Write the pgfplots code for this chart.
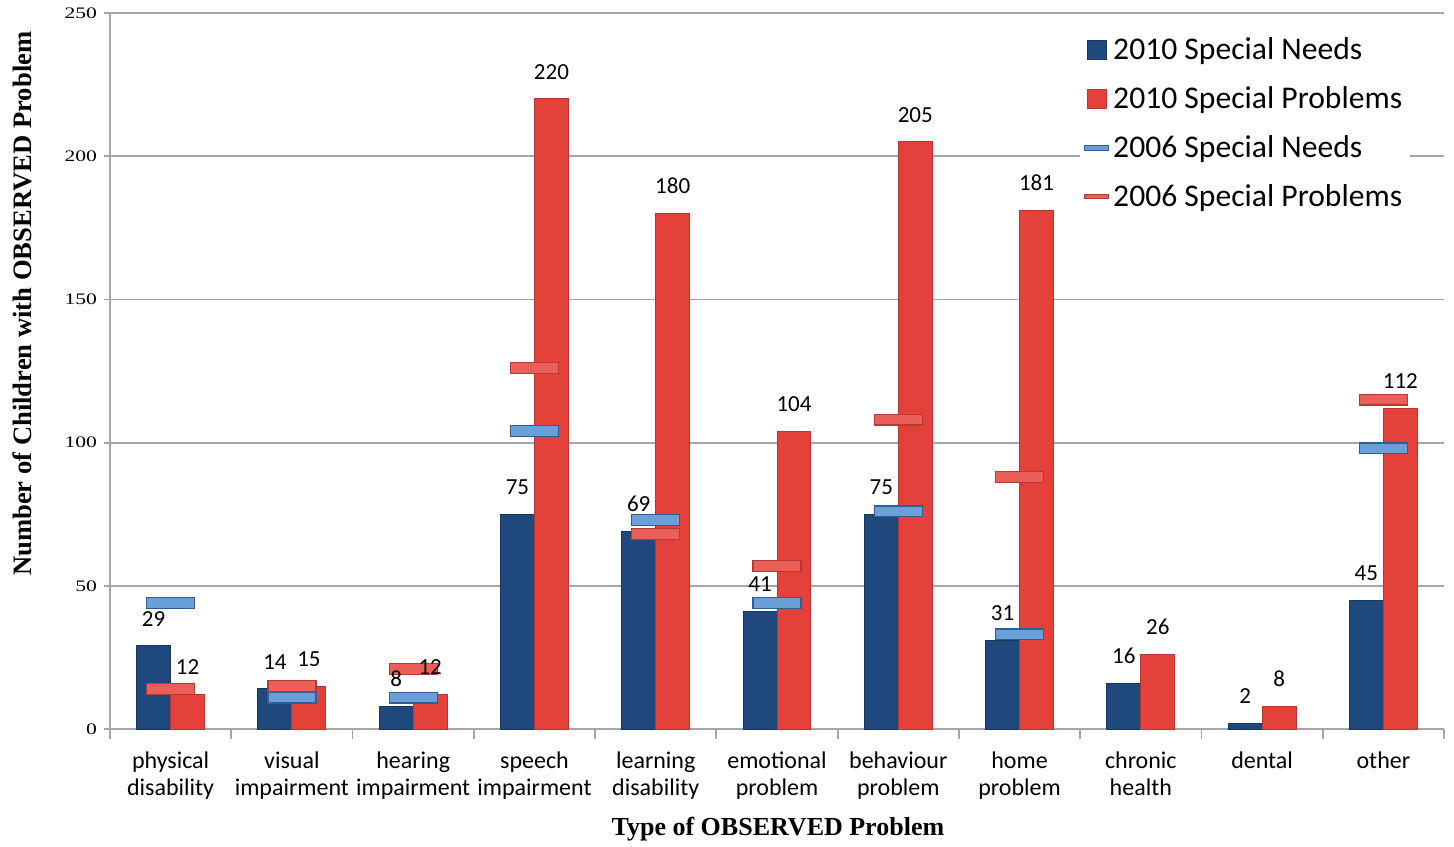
\documentclass[border=0pt]{standalone}
\usepackage{fontspec}
\setmainfont{Carlito}
\newfontfamily\serif{Liberation Serif}
\usepackage{graphicx}
\usepackage{pgfplots}
\pgfplotsset{compat=1.18}

\definecolor{nblue}{HTML}{1F497D}
\definecolor{nblueD}{HTML}{16365C}
\definecolor{pred}{HTML}{E5413B}
\definecolor{predD}{HTML}{B83530}
\definecolor{oblue}{HTML}{6A9FD8}
\definecolor{oblueD}{HTML}{2F5E95}
\definecolor{ored}{HTML}{EC5E58}
\definecolor{oredD}{HTML}{B33A35}
\definecolor{gridgray}{HTML}{A6A6A6}

\pgfdeclareplotmark{hbar}{%
  \pgfpathrectangle{\pgfpoint{-12pt}{-2.7pt}}{\pgfpoint{24pt}{5.4pt}}%
  \pgfusepathqfillstroke}

\pgfplotstableread{
x need prob
0 29 12
1 14 15
2 8 12
3 75 220
4 69 180
5 41 104
6 75 205
7 31 181
8 16 26
9 2 8
10 45 112
}\newdata

\begin{document}
\begin{tikzpicture}
\begin{axis}[
  scale only axis, width=667pt, height=358pt,
  xmin=-0.5, xmax=10.5, ymin=0, ymax=250,
  axis x line*=bottom, axis y line*=left,
  axis line style={gridgray, line width=0.9pt, -},
  ytick={0,50,...,250},
  ymajorgrids, grid style={gridgray, line width=0.9pt},
  xtick={0,...,10},
  xticklabels={{physical\\disability},{visual\\impairment},{hearing\\impairment},{speech\\impairment},{learning\\disability},{emotional\\problem},{behaviour\\problem},{home\\problem},{chronic\\health},{dental},{other}},
  xticklabel style={font=\fontsize{12}{13.5}\selectfont, align=center, yshift=-5pt},
  major x tick style={draw=none},
  minor xtick={-0.5,0.5,...,10.5},
  minor x tick style={gridgray, line width=0.9pt},
  tick align=outside,
  minor tick length=5pt,
  major tick length=3pt,
  y tick style={gridgray, line width=0.9pt},
  /pgf/number format/assume math mode=true,
  yticklabel={\scalebox{1.35}[1]{\pgfmathprintnumber{\tick}}},
  yticklabel style={font=\serif\fontsize{8}{9}\selectfont},
  xlabel={\serif\bfseries Type of OBSERVED Problem},
  xlabel style={at={(axis description cs:0.5007,-0.1397)}, anchor=center, font=\fontsize{13}{15}\selectfont},
  ylabel={\serif\bfseries Number of Children with OBSERVED Problem},
  ylabel style={at={(axis description cs:-0.066,0.594)}, anchor=center, font=\fontsize{13.3}{15}\selectfont},
  legend style={at={(0.727,0.977)}, anchor=north west, draw=none, fill=white,
    font=\fontsize{15.8}{18}\selectfont, row sep=7.9pt, inner sep=2pt, cells={anchor=west}},
  legend cell align=left,
  clip=false,
]
\coordinate (SW) at (rel axis cs:0,0);
\coordinate (NE) at (rel axis cs:1,1);

\addplot[ybar, bar width=0.28, bar shift=-0.14, fill=nblue, draw=nblueD, line width=0.5pt,
  legend image code/.code={\draw[fill=nblue, draw=nblueD] (1.25pt,-4.75pt) rectangle (10.75pt,4.75pt);}]
  table[x=x, y=need] {\newdata};
\addlegendentry{2010 Special Needs}

\addplot[ybar, bar width=0.28, bar shift=0.14, fill=pred, draw=predD, line width=0.5pt,
  legend image code/.code={\draw[fill=pred, draw=predD] (1.25pt,-4.75pt) rectangle (10.75pt,4.75pt);}]
  table[x=x, y=prob] {\newdata};
\addlegendentry{2010 Special Problems}

\addplot[only marks, mark=hbar, mark options={fill=oblue, draw=oblueD, line width=0.6pt},
  legend image code/.code={\draw[fill=oblue, draw=oblueD, line width=0.5pt] (0pt,-1.2pt) rectangle (12pt,1.2pt);}]
  coordinates {(0,44) (1,11) (2,11) (3,104) (4,73) (5,44) (6,76) (7,33) (10,98)};
\addlegendentry{2006 Special Needs}

\addplot[only marks, mark=hbar, mark options={fill=ored, draw=oredD, line width=0.6pt},
  legend image code/.code={\draw[fill=ored, draw=oredD, line width=0.5pt] (0pt,-1.2pt) rectangle (12pt,1.2pt);}]
  coordinates {(0,14) (1,15) (2,21) (3,126) (4,68) (5,57) (6,108) (7,88) (10,115)};
\addlegendentry{2006 Special Problems}

% value labels drawn on top of the 2006 markers
\addplot[ybar, bar width=0.28, bar shift=-0.14, draw=none, fill=none, forget plot,
  nodes near coords, nodes near coords style={font=\fontsize{11.5}{13}\selectfont, black, yshift=6.3pt, xshift=-8.5pt}]
  table[x=x, y=need] {\newdata};
\addplot[ybar, bar width=0.28, bar shift=0.14, draw=none, fill=none, forget plot,
  nodes near coords, nodes near coords style={font=\fontsize{11.5}{13}\selectfont, black, yshift=6.3pt, xshift=8.5pt}]
  table[x=x, y=prob] {\newdata};
\end{axis}
\pgfresetboundingbox
\path[use as bounding box] ([xshift=-55pt,yshift=-58.5pt]SW) rectangle ([xshift=5pt,yshift=6.5pt]NE);
\end{tikzpicture}
\end{document}
